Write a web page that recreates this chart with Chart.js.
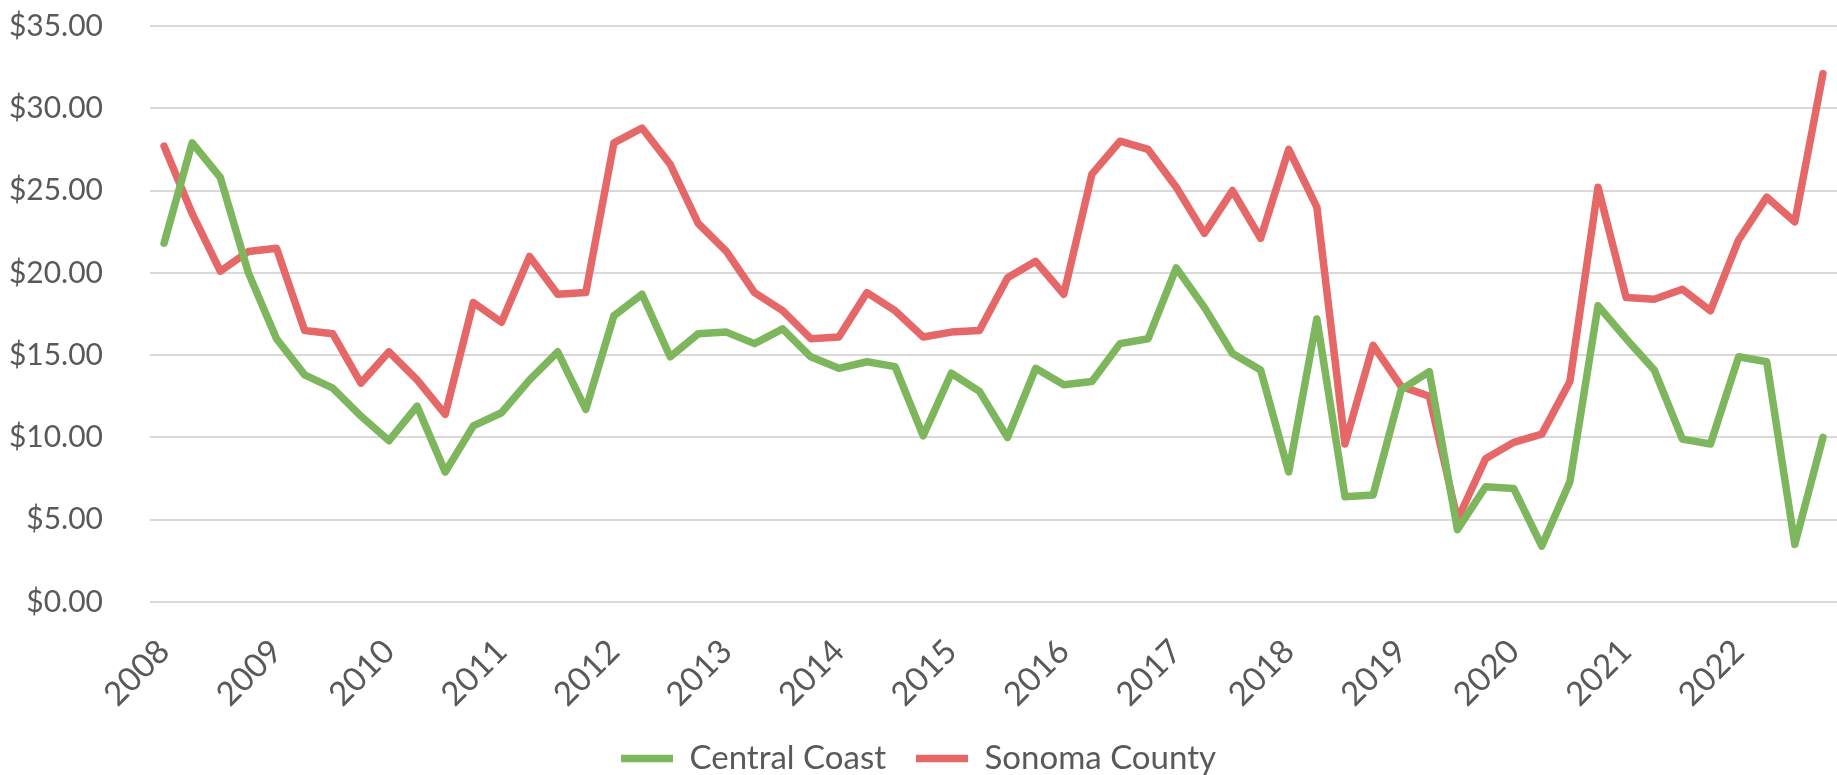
<!DOCTYPE html>
<html>
<head>
<meta charset="utf-8">
<script src="https://cdn.jsdelivr.net/npm/chart.js@4/dist/chart.umd.min.js"></script>
<style>
  html, body { margin: 0; padding: 0; background: #fff; }
  #wrap { width: 1837px; height: 775px; position: relative; }
</style>
</head>
<body>
<div id="wrap"><canvas id="wageChart"></canvas></div>
<script>
// quarterly, 2008 Q1 .. 2022 Q4
const years = ['2008', '2009', '2010', '2011', '2012', '2013', '2014', '2015',
  '2016', '2017', '2018', '2019', '2020', '2021', '2022'];
const quarters = [];
years.forEach(y => { for (let q = 1; q <= 4; q++) quarters.push(y + ' Q' + q); });

const centralCoast = [
  21.8, 27.9, 25.8, 20.0, 16.0, 13.8, 13.0, 11.3, 9.8, 11.9,
  7.9, 10.7, 11.5, 13.5, 15.2, 11.7, 17.4, 18.7, 14.9, 16.3,
  16.4, 15.7, 16.6, 14.9, 14.2, 14.6, 14.3, 10.1, 13.9, 12.8,
  10.0, 14.2, 13.2, 13.4, 15.7, 16.0, 20.3, 17.9, 15.1, 14.1,
  7.9, 17.2, 6.4, 6.5, 12.9, 14.0, 4.4, 7.0, 6.9, 3.4,
  7.3, 18.0, 16.0, 14.1, 9.9, 9.6, 14.9, 14.6, 3.5, 10.0
];
const sonomaCounty = [
  27.7, 23.6, 20.1, 21.3, 21.5, 16.5, 16.3, 13.3, 15.2, 13.5,
  11.4, 18.2, 17.0, 21.0, 18.7, 18.8, 27.9, 28.8, 26.6, 23.0,
  21.3, 18.8, 17.7, 16.0, 16.1, 18.8, 17.7, 16.1, 16.4, 16.5,
  19.7, 20.7, 18.7, 26.0, 28.0, 27.5, 25.2, 22.4, 25.0, 22.1,
  27.5, 24.0, 9.6, 15.6, 13.1, 12.5, 5.0, 8.7, 9.7, 10.2,
  13.4, 25.2, 18.5, 18.4, 19.0, 17.7, 22.0, 24.6, 23.1, 32.1
];
const yTicks = [0, 5, 10, 15, 20, 25, 30, 35];

const textColor = '#595959';
const fontFamily = 'Lato, "Open Sans", sans-serif';

const ctx = document.getElementById('wageChart').getContext('2d');
const wageChart = new Chart(ctx, {
  type: 'line',
  data: {
    labels: quarters,
    datasets: [
      {
        label: 'Central Coast',
        data: centralCoast,
        borderColor: '#7eb65e',
        backgroundColor: '#7eb65e',
        borderWidth: 7.5,
        pointRadius: 0,
        tension: 0,
        borderJoinStyle: 'round',
        borderCapStyle: 'round'
      },
      {
        label: 'Sonoma County',
        data: sonomaCounty,
        borderColor: '#e66767',
        backgroundColor: '#e66767',
        borderWidth: 7.5,
        pointRadius: 0,
        tension: 0,
        borderJoinStyle: 'round',
        borderCapStyle: 'round'
      }
    ]
  },
  options: {
    responsive: true,
    maintainAspectRatio: false,
    animation: false,
    layout: {
      padding: { top: 26, right: 0, left: 0, bottom: -10 }
    },
    plugins: {
      tooltip: { enabled: false },
      legend: {
        position: 'bottom',
        labels: {
          usePointStyle: true,
          pointStyle: 'line',
          pointStyleWidth: 52,
          color: textColor,
          font: { family: fontFamily, size: 33 },
          padding: 30
        }
      }
    },
    scales: {
      x: {
        offset: true,
        grid: { display: false },
        border: { display: false },
        ticks: {
          autoSkip: false,
          maxRotation: 45,
          minRotation: 45,
          color: textColor,
          font: { family: fontFamily, size: 33 },
          padding: 22,
          callback: function(value, index) {
            return index % 4 === 0 ? years[index / 4] : '';
          }
        },
        afterFit: function(scale) {
          scale.height = 110;
          scale.paddingLeft = 0;
          scale.paddingRight = 0;
        }
      },
      y: {
        min: 0,
        max: 35,
        border: { display: false },
        grid: { color: '#d9d9d9', lineWidth: 2, drawTicks: false },
        afterBuildTicks: function(scale) {
          scale.ticks = yTicks.map(v => ({ value: v }));
        },
        ticks: {
          color: textColor,
          font: { family: fontFamily, size: 30 },
          padding: 47,
          callback: function(value) { return '$' + value.toFixed(2); }
        },
        afterFit: function(scale) {
          scale.width = 150;
          scale.paddingTop = 0;
          scale.paddingBottom = 0;
        }
      }
    }
  }
});
</script>
</body>
</html>
